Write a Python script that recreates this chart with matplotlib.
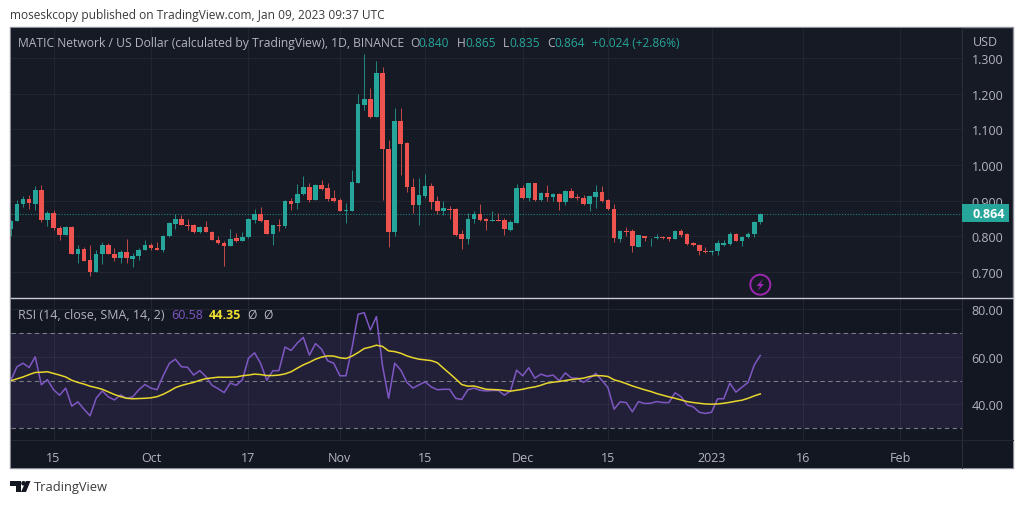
import matplotlib
matplotlib.use('Agg')
import matplotlib.dates as mdates
import matplotlib.pyplot as plt
import pandas as pd
from matplotlib.patches import Circle, Polygon, Rectangle

W, H = 1024, 506

plt.rcParams['font.family'] = ['Open Sans', 'DejaVu Sans']

# daily candles, 8 Sep 2022 - 9 Jan 2023
dates = pd.date_range('2022-09-08', periods=124, freq='D')
opens = [.820, .844, .891, .906, .892, .931, .845, .865, .824, .805, .827, .751, .765, .733, .699, .751,
         .777, .751, .739, .756, .737, .746, .763,
         .777, .767, .762, .800, .835, .850, .833, .831, .812, .825, .812, .791, .782, .774, .794, .787,
         .798, .847, .864, .845, .807, .833, .829, .899, .893, .918, .937, .903, .945, .936, .908,
         .903, .872, .872, .950, 1.169, 1.186, 1.134, 1.258, 1.045, .812, 1.123, 1.061, .938, .888, .914,
         .942, .899, .872, .878, .876, .806, .793, .849, .863, .849, .843, .847, .845, .819, .837,
         .936, .907, .949, .901, .922, .911, .919, .895, .928, .911, .908, .891, .911, .923, .902, .878,
         .793, .816, .814, .771, .800, .794, .795, .799, .797, .793, .816, .807, .781, .776, .760,
         .756, .758, .777, .778, .807, .787, .798, .806, .840]
highs = [.846, .903, .912, .917, .942, .945, .870, .875, .830, .830, .830, .775, .769, .777, .762, .784,
         .781, .767, .763, .793, .753, .767, .791,
         .781, .783, .805, .839, .863, .861, .849, .835, .828, .844, .814, .802, .786, .822, .809, .811,
         .851, .877, .881, .847, .833, .849, .903, .907, .946, .968, .950, .947, .958, .950, .929,
         .907, .893, .987, 1.200, 1.310, 1.216, 1.292, 1.275, 1.071, 1.160, 1.160, 1.065, .964, .964, .974,
         .950, .912, .899, .884, .879, .819, .865, .870, .892, .851, .872, .865, .851, .847, .947,
         .945, .950, .950, .923, .945, .922, .922, .929, .936, .920, .917, .914, .944, .940, .905, .892,
         .819, .825, .821, .805, .802, .796, .807, .800, .798, .818, .821, .809, .784, .779, .770,
         .761, .789, .789, .813, .809, .801, .811, .843, .865]
lows = [.800, .842, .882, .877, .873, .839, .830, .819, .789, .805, .750, .725, .730, .688, .699, .723,
        .750, .732, .725, .725, .714, .733, .761,
        .761, .761, .755, .798, .822, .832, .819, .809, .809, .812, .789, .779, .716, .774, .785, .787,
        .796, .837, .839, .807, .776, .814, .823, .873, .877, .917, .896, .903, .931, .898, .895,
        .870, .837, .872, .950, 1.153, 1.132, 1.134, .903, .769, .800, .973, .923, .865, .833, .907,
        .878, .864, .861, .849, .800, .765, .778, .837, .842, .819, .842, .842, .805, .814, .837,
        .906, .898, .900, .900, .900, .898, .875, .889, .907, .901, .889, .872, .879, .895, .875, .783,
        .783, .802, .756, .769, .786, .772, .793, .793, .786, .793, .798, .775, .772, .749, .752,
        .747, .749, .774, .777, .786, .774, .796, .798, .835]
closes = [.844, .891, .906, .893, .931, .845, .865, .824, .805, .827, .750, .765, .731, .699, .751, .777,
          .750, .738, .756, .738, .746, .763, .777,
          .766, .763, .800, .837, .850, .832, .830, .812, .825, .812, .789, .781, .774, .793, .787, .799,
          .849, .864, .843, .807, .831, .830, .899, .892, .918, .939, .903, .945, .933, .906, .900,
          .872, .874, .951, 1.171, 1.186, 1.134, 1.258, 1.045, .812, 1.123, 1.060, .938, .888, .917, .942,
          .897, .872, .880, .875, .805, .792, .850, .864, .847, .844, .847, .844, .821, .839, .936,
          .907, .949, .901, .922, .911, .919, .895, .928, .908, .907, .891, .912, .923, .900, .878, .794,
          .816, .813, .772, .803, .794, .796, .799, .795, .793, .816, .805, .779, .775, .759, .755,
          .759, .781, .780, .807, .787, .799, .807, .841, .864]

rsi = [50.1, 55.8, 57.3, 55.5, 60.0, 48.2, 50.4, 46.1, 43.8, 46.8, 39.2, 41.0, 37.9, 35.1, 42.5, 45.6,
       43.1, 41.8, 43.9, 42.5, 43.1, 46.1, 48.3,
       46.8, 46.1, 52.0, 57.2, 59.0, 55.8, 55.6, 52.3, 54.2, 51.7, 48.0, 46.6, 44.9, 48.9, 48.0, 50.3,
       59.4, 61.7, 57.2, 50.1, 54.1, 54.2, 64.1, 62.7, 65.8, 68.2, 60.7, 65.6, 63.2, 58.3, 57.3,
       52.0, 52.0, 63.9, 78.0, 78.6, 71.3, 77.0, 56.2, 42.5, 57.3, 54.4, 49.2, 46.8, 48.2, 49.4,
       47.3, 46.1, 46.3, 46.3, 42.5, 42.0, 46.1, 46.8, 45.9, 45.6, 45.8, 45.8, 43.8, 45.6, 54.4,
       52.0, 55.4, 51.0, 52.7, 51.8, 52.3, 49.9, 53.2, 51.1, 51.0, 49.2, 51.0, 53.0, 50.1, 47.0, 37.9,
       41.0, 40.7, 36.8, 41.1, 40.3, 40.4, 41.1, 40.7, 40.7, 44.8, 43.2, 39.7, 38.9, 36.6, 36.1,
       36.6, 42.3, 42.3, 48.9, 45.1, 47.2, 49.2, 56.5, 60.58]
rsi_sma = [49.9, 50.7, 51.5, 52.5, 53.4, 53.5, 53.7, 53.0, 52.3, 51.5, 50.1, 49.2, 48.5, 47.6, 47.0, 46.3,
           45.2, 44.1, 43.2, 42.5, 42.3, 42.4, 42.5,
           42.7, 43.2, 44.2, 45.5, 47.0, 47.9, 48.6, 49.2, 50.1, 50.8, 51.1, 51.4, 51.4, 51.4, 51.5, 52.0,
           52.3, 52.7, 52.5, 52.1, 52.1, 52.3, 52.8, 53.7, 55.2, 56.6, 57.7, 59.0, 59.9, 60.4, 60.3,
           59.6, 59.3, 60.3, 61.8, 63.5, 64.1, 64.9, 64.4, 62.5, 62.2, 61.5, 60.4, 59.6, 59.0, 58.7,
           58.4, 57.5, 55.2, 53.0, 50.7, 48.3, 47.6, 47.7, 47.0, 46.3, 46.2, 46.1, 45.8, 45.5, 45.9,
           46.3, 46.9, 47.3, 48.0, 48.9, 49.3, 49.6, 50.0, 50.4, 50.7, 51.0, 51.7, 52.1, 52.0, 51.7, 50.3,
           49.6, 48.7, 47.7, 46.9, 46.1, 45.4, 44.5, 43.8, 43.1, 42.5, 41.8, 41.1, 40.7, 40.4, 40.1,
           40.0, 40.1, 40.4, 40.8, 41.3, 41.7, 42.5, 43.5, 44.35]

price_ticks = [.7, .8, .9, 1.0, 1.1, 1.2, 1.3]
rsi_ticks = [40, 60, 80]
time_ticks = ['2022-09-15', '2022-10-01', '2022-10-17', '2022-11-01', '2022-11-15', '2022-12-01',
              '2022-12-15', '2023-01-01', '2023-01-16', '2023-02-01']
time_labels = ['15', 'Oct', '17', 'Nov', '15', 'Dec', '15', '2023', '16', 'Feb']
last_price = .864

BG = '#161a25'
BG_DARK = '#131722'
GRID = '#212530'
GREY = '#b2b5be'
GREEN = '#26a69a'
RED = '#ef5350'
PURPLE = '#7e57c2'
YELLOW = '#e8d62c'


def add_axes(left, top, right, bottom):
    return fig.add_axes([left / W, 1 - bottom / H, (right - left) / W, (bottom - top) / H])


def put_text(x, y, s, **kw):
    kw.setdefault('color', GREY)
    kw.setdefault('fontsize', 8.7)
    fig.text(x / W, 1 - y / H, s, va='center', **kw)


fig = plt.figure(figsize=(W / 100, H / 100), dpi=100, facecolor='white')

# dark panel behind everything, pixel coordinates for the furniture
bg = fig.add_axes([0, 0, 1, 1], zorder=-1)
bg.set_xlim(0, W)
bg.set_ylim(H, 0)
bg.axis('off')
bg.add_patch(Rectangle((10, 28), 1003, 441, fc=BG, ec='#8d9099', lw=1))
bg.add_patch(Rectangle((10.5, 441), 1002, 28, fc=BG_DARK, ec='none'))
bg.add_patch(Rectangle((10.5, 300), 1002, 141, fc=BG_DARK, ec='none'))
bg.plot([962, 962], [28.5, 468.5], color='#2a2e39', lw=0.8)
bg.plot([10.5, 1012.5], [441, 441], color='#23272f', lw=0.8)

px_per_day = 6.093
x_left = mdates.date2num(pd.Timestamp('2022-09-15')) - 43 / px_per_day
x_right = mdates.date2num(pd.Timestamp('2022-09-15')) + 908.5 / px_per_day
xs = mdates.date2num(dates)
tick_xs = mdates.date2num(pd.to_datetime(time_ticks))

# price pane
ax = add_axes(10.5, 28.5, 962, 298.5)
ax.set_facecolor(BG)
for x, o, h, l, c in zip(xs, opens, highs, lows, closes):
    col = GREEN if c >= o else RED
    ax.vlines(x, l, h, color=col, lw=0.7, zorder=3, alpha=0.8)
    ax.bar(x, max(abs(c - o), .002), bottom=min(o, c), width=0.76, color=col, lw=0, zorder=4)
ax.axhline(last_price, color=GREEN, lw=0.8, ls=(0, (1, 1.5)), alpha=0.75, zorder=2)
ax.set_xlim(x_left, x_right)
ax.set_ylim(.6286, 1.3854)
ax.set_xticks(tick_xs)
ax.set_xticklabels([])
ax.set_yticks(price_ticks)
ax.set_yticklabels(['%.3f' % t for t in price_ticks])
ax.yaxis.tick_right()
ax.tick_params(axis='both', length=0, labelsize=9, labelcolor=GREY, pad=7)
ax.tick_params(axis='x', labelbottom=False)
ax.grid(color=GRID, lw=0.8)
ax.set_axisbelow(True)
for s in ax.spines.values():
    s.set_visible(False)

# rsi pane
ax2 = add_axes(10.5, 300, 962, 441)
ax2.set_facecolor(BG_DARK)
ax2.axhspan(30, 70, color=PURPLE, alpha=0.14, lw=0)
for level in [70, 50, 30]:
    ax2.axhline(level, color='#787b86', lw=0.8, ls=(0, (4, 3)))
ax2.plot(xs, rsi, color=PURPLE, lw=1.1, zorder=3)
ax2.plot(xs, rsi_sma, color=YELLOW, lw=1.1, zorder=4)
ax2.set_xlim(x_left, x_right)
ax2.set_ylim(24.9, 84.4)
ax2.set_xticks(tick_xs)
ax2.set_xticklabels(time_labels)
ax2.set_yticks(rsi_ticks)
ax2.set_yticklabels(['%.2f' % t for t in rsi_ticks])
ax2.yaxis.tick_right()
ax2.tick_params(axis='both', length=0, labelsize=9, labelcolor=GREY)
ax2.tick_params(axis='y', pad=7)
ax2.tick_params(axis='x', pad=8)
ax2.grid(color=GRID, lw=0.8)
ax2.set_axisbelow(True)
for s in ax2.spines.values():
    s.set_visible(False)

# overlays in pixel coordinates
top = fig.add_axes([0, 0, 1, 1], zorder=5)
top.set_xlim(0, W)
top.set_ylim(H, 0)
top.axis('off')
top.patch.set_alpha(0)
top.plot([10.5, 1012.5], [299.3, 299.3], color='#c9cbd1', lw=1)
top.add_patch(Rectangle((962, 205), 47, 18, fc=GREEN, ec='none'))
top.add_patch(Circle((760.3, 285.7), 10, fc='none', ec='#9c27b0', lw=1.4))
top.add_patch(Polygon([(763, 280), (756.5, 287), (760, 287), (757.5, 292), (764, 285), (760.5, 285)],
                      fc='#9c27b0', ec='none'))
# TradingView logo
top.add_patch(Polygon([(10, 482), (21, 482), (21, 493), (16, 493), (16, 487), (10, 487)], fc='#131722', ec='none'))
top.add_patch(Circle((23.5, 484.3), 2.3, fc='#131722', ec='none'))
top.add_patch(Polygon([(26, 482), (30.5, 482), (26, 493), (21, 493)], fc='#131722', ec='none'))

put_text(972.5, 214, '0.864', color='white', fontsize=9, fontweight='bold', zorder=10)
put_text(973, 42, 'USD', fontsize=9)
put_text(10, 16, 'moseskcopy published on TradingView.com, Jan 09, 2023 09:37 UTC', color='#3a3a3a', fontsize=8.55)
put_text(18, 44, 'MATIC Network / US Dollar (calculated by TradingView), 1D, BINANCE')
for x, s in [(410, 'O'), (457, 'H'), (503, 'L'), (547, 'C')]:
    put_text(x, 44, s)
for x, s in [(418, '0.840'), (465, '0.865'), (509, '0.835'), (554, '0.864'), (592, '+0.024 (+2.86%)')]:
    put_text(x, 44, s, color=GREEN, fontsize=8.6)
put_text(18.5, 315.7, 'RSI (14, close, SMA, 14, 2)', fontsize=9)
put_text(171, 315.7, '60.58', color=PURPLE, fontsize=9)
put_text(209, 315.7, '44.35', color='#f0e030', fontweight='bold', fontsize=9)
put_text(247, 315.7, 'Ø')
put_text(263, 315.7, 'Ø')
put_text(34, 488, 'TradingView', color='#3a3a3a', fontsize=9.3)

fig.savefig('out.png', dpi=100, facecolor='white')
